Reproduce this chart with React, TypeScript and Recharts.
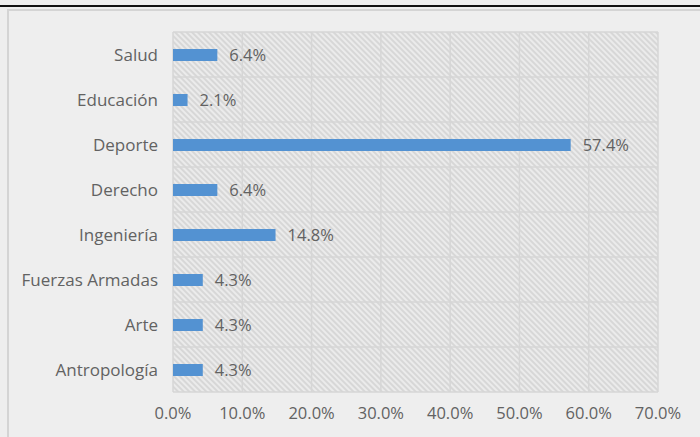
import React from "react";
import { BarChart, Bar, XAxis, YAxis, CartesianGrid, LabelList } from "recharts";

// Careers chosen, share of respondents (%)
const categories = ["Salud", "Educación", "Deporte", "Derecho", "Ingeniería", "Fuerzas Armadas", "Arte", "Antropología"];
const shares = [6.4, 2.1, 57.4, 6.4, 14.8, 4.3, 4.3, 4.3];
const xTicks = [0, 10, 20, 30, 40, 50, 60, 70];

const data = categories.map((name, i) => ({ name, value: shares[i] }));

const pct = (v: number) => `${Number(v).toFixed(1)}%`;
const textColor = "#626262";
const gridColor = "#d6d6d6";

export default function App() {
    return (
        <div
            style={{
                position: "absolute",
                left: 0,
                top: 0,
                width: 700,
                height: 437,
                background: "#eeeeee",
                fontFamily: "'Open Sans', sans-serif",
                overflow: "hidden",
            }}
        >
            {/* thick black rule at the top */}
            <div style={{ position: "absolute", left: 0, top: 5, width: 700, height: 2, background: "#111" }} />
            {/* faint inner frame */}
            <div
                style={{
                    position: "absolute",
                    left: 7,
                    top: 9,
                    width: 700,
                    height: 440,
                    borderTop: "2px solid #d4d4d4",
                    borderLeft: "2px solid #d4d4d4",
                }}
            />
            <div style={{ position: "absolute", left: 0, top: 0 }}>
                <BarChart
                    width={700}
                    height={437}
                    data={data}
                    layout="vertical"
                    margin={{ top: 32, right: 42, bottom: 15, left: 13 }}
                    barCategoryGap={0}
                >
                    <defs>
                        <pattern id="hatch" patternUnits="userSpaceOnUse" width={4} height={4} patternTransform="rotate(-45)">
                            <rect width={4} height={4} fill="#ebebeb" />
                            <line x1={1} y1={0} x2={1} y2={4} stroke="#cfcfcf" strokeWidth={1.4} />
                        </pattern>
                    </defs>
                    <CartesianGrid
                        stroke={gridColor}
                        strokeWidth={1.5}
                        fill="url(#hatch)"
                        fillOpacity={1}
                        horizontalCoordinatesGenerator={({ offset }: any) =>
                            categories.map((_, i) => offset.top + (i * offset.height) / categories.length).concat(offset.top + offset.height)
                        }
                    />
                    <XAxis
                        type="number"
                        domain={[0, 70]}
                        ticks={xTicks}
                        tickFormatter={pct}
                        axisLine={false}
                        tickLine={false}
                        tickMargin={9}
                        height={30}
                        interval={0}
                        tick={{ fill: textColor, fontSize: 16.5 }}
                    />
                    <YAxis
                        type="category"
                        dataKey="name"
                        width={160}
                        axisLine={false}
                        tickLine={false}
                        tickMargin={9}
                        interval={0}
                        tick={{ fill: textColor, fontSize: 17 }}
                    />
                    <Bar dataKey="value" fill="#5392d2" barSize={12} isAnimationActive={false}>
                        <LabelList dataKey="value" position="right" offset={12} formatter={pct} fill={textColor} fontSize={16.5} />
                    </Bar>
                </BarChart>
            </div>
        </div>
    );
}
